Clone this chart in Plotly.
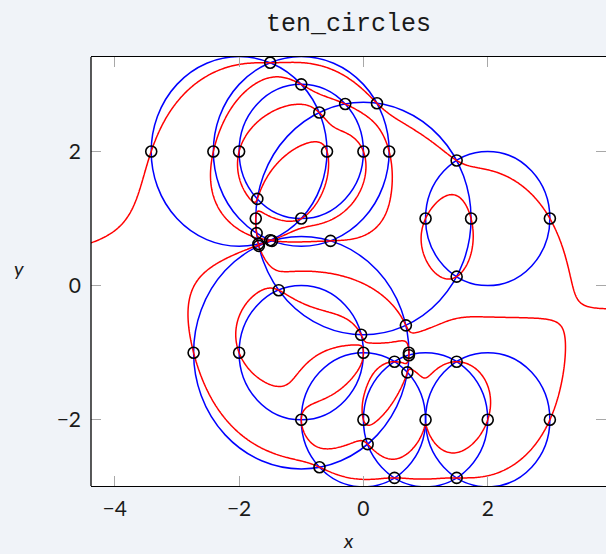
import numpy as np
import plotly.graph_objects as go

# Ten circles: centre x, centre y and squared radius
circle_cx = [-2, -1, -1, 0, 2, -1, -1, 0, 1, 2]
circle_cy = [2, 2, 2, 1, 1, -1, -1, -2, -2, -2]
circle_r2 = [2, 2, 1, 3, 1, 3, 1, 1, 1, 1]

# Critical points of the union (f = df/dy = 0): vertical tangents and crossings
crit_x = [-3.414, -0.586, -2.414, 0.414, -2.0, 0.0, -1.732, 1.732, 1.0, 3.0,
          -2.732, 0.732, -2.0, 0.0, -1.0, 1.0, 0.0, 2.0, 3.0,
          -1.5, -1.5, -1.0, -1.0, -0.710, -1.690, 0.218, -1.718, -0.293, -1.707,
          -1.471, -0.529, -1.683, 0.683, -1.363, -0.037, 1.5, 1.5,
          0.707, -0.707, 0.732, 0.068, 0.5, 0.5, 1.5, 1.5]
crit_y = [2.0, 2.0, 2.0, 2.0, 2.0, 2.0, 1.0, 1.0, 1.0, 1.0,
          -1.0, -1.0, -1.0, -1.0, -2.0, -2.0, -2.0, -2.0, -2.0,
          3.323, 0.677, 3.0, 1.0, 2.580, 0.620, 2.718, 0.782, 2.707, 1.293,
          0.667, 0.667, 0.592, -0.592, -0.068, -0.732, 1.866, 0.134,
          -1.293, -2.707, -1.037, -2.363, -1.134, -2.866, -1.134, -2.866]

x_ticks = [-4, -2, 0, 2]
y_ticks = [-2, 0, 2]
x_range = [-4.383, 3.903]
y_range = [-2.987, 3.408]

# Polar curve df/dy = 0 of f = product of the circle polynomials
gx = np.linspace(-4.5, 4.0, 430)
gy = np.linspace(-3.1, 3.5, 340)
X, Y = np.meshgrid(gx, gy)
G = [(X - a) ** 2 + (Y - b) ** 2 - r2 for a, b, r2 in zip(circle_cx, circle_cy, circle_r2)]
fy = np.zeros_like(X)
for i, b in enumerate(circle_cy):
    term = 2 * (Y - b)
    for j, g in enumerate(G):
        if j != i:
            term = term * g
    fy += term
scale = np.ones_like(X)
for g in G:
    scale = scale * np.sqrt(1 + g ** 2)
z = (fy / scale).astype(np.float32)

fig = go.Figure()

fig.add_trace(go.Contour(
    x=gx, y=gy, z=z,
    autocontour=False,
    contours=dict(start=0, end=0, size=1, coloring="none"),
    line=dict(color="#ff0000", width=1.5, smoothing=0),
    showscale=False, hoverinfo="skip",
))

fig.add_trace(go.Scatter(
    x=crit_x, y=crit_y, mode="markers",
    marker=dict(symbol="circle-open", size=11, color="black", line=dict(width=1.6, color="black")),
    hoverinfo="skip", showlegend=False,
))

for a, b, r2 in zip(circle_cx, circle_cy, circle_r2):
    r = float(np.sqrt(r2))
    fig.add_shape(type="circle", xref="x", yref="y",
                  x0=a - r, x1=a + r, y0=b - r, y1=b + r,
                  line=dict(color="#0000ff", width=1.5), layer="below")

# left frame edge
fig.add_shape(type="line", xref="paper", yref="paper", x0=0, x1=0, y0=0, y1=1,
              line=dict(color="black", width=1.3), layer="above")

tick_font = dict(family="Lato", size=21, color="#1a1a1a")
fig.update_xaxes(range=x_range, tickvals=x_ticks, ticks="inside", ticklen=10,
                 tickwidth=1.2, tickcolor="#a8a8a8", showline=True, linecolor="black",
                 linewidth=1.3, mirror="ticks", showgrid=False, zeroline=False,
                 tickfont=tick_font, ticklabelstandoff=4)
fig.update_yaxes(range=y_range, tickvals=y_ticks, ticks="inside", ticklen=10,
                 tickwidth=1.2, tickcolor="#a8a8a8", showline=False,
                 mirror="ticks", showgrid=False, zeroline=False,
                 tickfont=tick_font, ticklabelstandoff=9)

fig.add_annotation(text="<i>x</i>", xref="paper", yref="paper", x=0.5, y=-0.127,
                   xanchor="center", yanchor="middle", showarrow=False,
                   font=dict(family="Lato", size=20, color="#1a1a1a"))
fig.add_annotation(text="<i>y</i>", xref="paper", yref="paper", x=-0.14, y=0.507,
                   xanchor="center", yanchor="middle", showarrow=False,
                   font=dict(family="Lato", size=20, color="#1a1a1a"))

fig.update_layout(
    width=606, height=554,
    margin=dict(l=91, r=0, t=57, b=68),
    paper_bgcolor="#f0f3f8", plot_bgcolor="white",
    showlegend=False,
    title=dict(text="ten_circles", x=0.5, xref="paper", xanchor="center",
               y=1 - 22 / 554, yref="container", yanchor="middle",
               font=dict(family="Liberation Mono", size=25, color="#1a1a1a")),
)

fig.write_html("out.html", config={"displayModeBar": False})
